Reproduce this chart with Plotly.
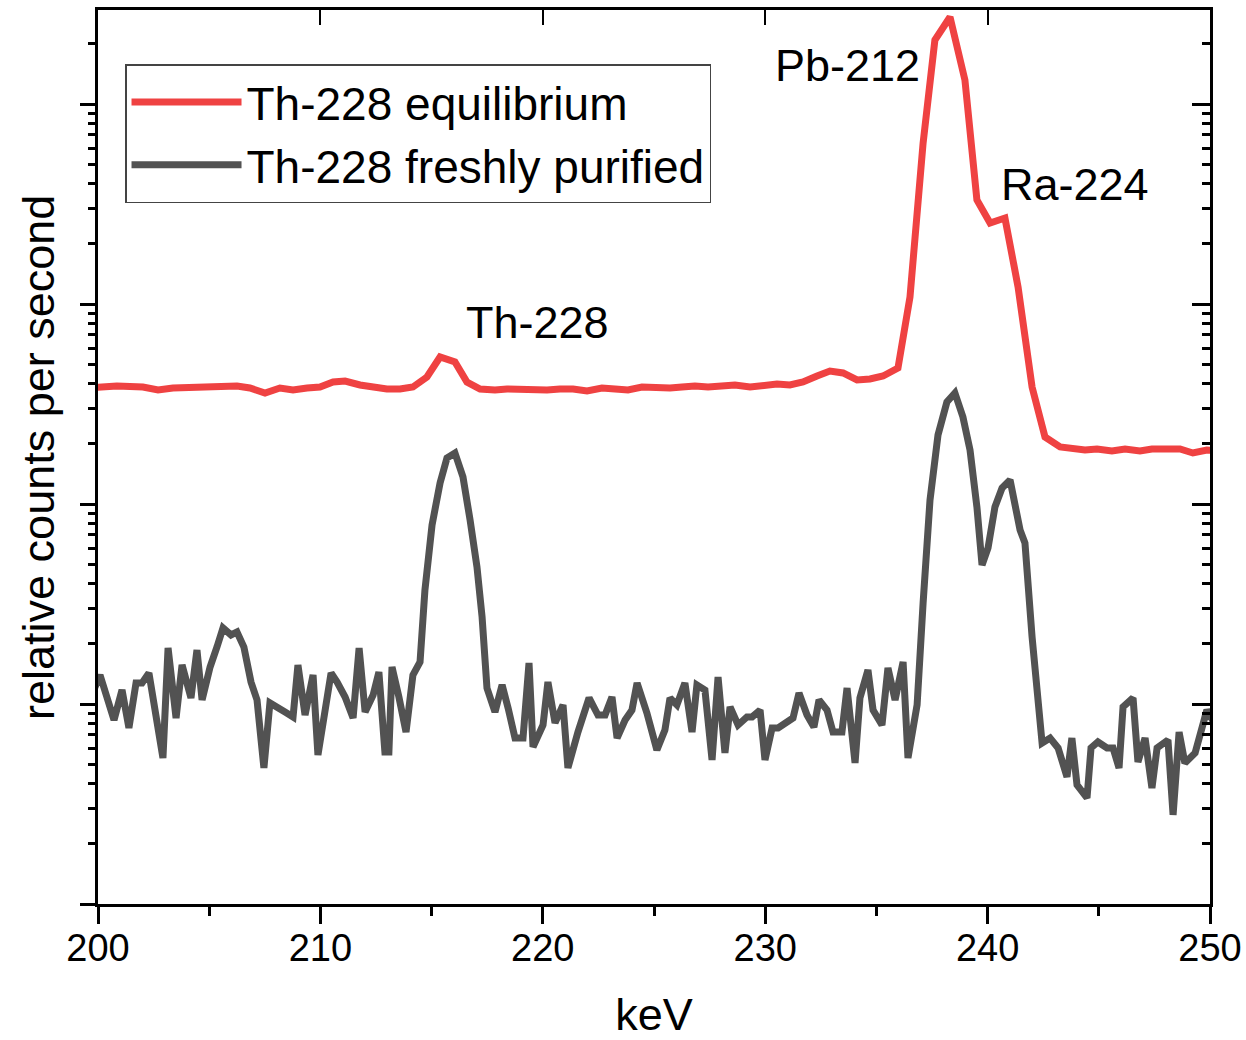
import math
import plotly.graph_objects as go

# --- data (keV, relative counts per second) ---
eq_kev = [199.55, 200.85, 202.02, 202.70, 203.37, 204.59, 205.13, 205.71, 206.25, 206.83,
          207.51, 208.18, 208.77, 209.40, 209.98, 210.57, 211.11, 211.78, 212.54, 212.99,
          213.58, 214.16, 214.79, 215.38, 216.05, 216.59, 217.18, 217.85, 218.39, 219.11,
          219.65, 220.19, 220.77, 221.36, 221.99, 222.66, 223.25, 223.83, 224.46, 225.13,
          225.72, 226.26, 226.84, 227.43, 228.06, 228.64, 229.32, 229.90, 230.53, 231.11,
          231.70, 232.33, 232.91, 233.50, 234.13, 234.71, 235.30, 235.97, 236.51, 237.10,
          237.63, 238.31, 238.98, 239.52, 240.11, 240.78, 241.37, 242.00, 242.58, 243.26,
          243.79, 244.38, 244.92, 245.59, 246.18, 246.85, 247.39, 247.98, 248.65, 249.23,
          249.86, 250.54]
eq_cps = [380.2, 389.0, 384.6, 371.5, 380.2, 384.6, 380.2, 389.0, 389.0, 380.2,
          358.9, 380.2, 371.5, 380.2, 384.6, 407.4, 412.1, 393.6, 380.2, 375.8,
          375.8, 384.6, 431.5, 543.3, 512.9, 407.4, 375.8, 371.5, 375.8, 371.5,
          371.5, 371.5, 375.8, 375.8, 367.3, 380.2, 375.8, 371.5, 384.6, 380.2,
          380.2, 384.6, 389.0, 384.6, 389.0, 393.6, 384.6, 393.6, 398.1, 393.6,
          407.4, 436.5, 462.4, 451.9, 416.9, 421.7, 436.5, 478.6, 1084, 6383,
          20890, 27230, 13180, 3311, 2541, 2692, 1216, 384.6, 216.3, 192.8,
          188.4, 186.2, 188.4, 184.1, 188.4, 184.1, 188.4, 188.4, 188.4, 179.9,
          186.2, 184.1]

fresh_kev = [199.64, 200.09, 200.72, 201.08, 201.39, 201.71, 201.98, 202.29, 202.92, 203.15,
             203.51, 203.78, 204.18, 204.45, 204.68, 205.04, 205.35, 205.62, 205.98, 206.25,
             206.56, 206.88, 207.15, 207.46, 207.73, 208.09, 208.41, 208.77, 208.99, 209.31,
             209.67, 209.89, 210.21, 210.48, 210.75, 211.11, 211.47, 211.74, 212.01, 212.37,
             212.63, 212.90, 213.08, 213.22, 213.53, 213.85, 214.16, 214.48, 214.70, 215.02,
             215.38, 215.69, 216.05, 216.41, 216.73, 217.04, 217.27, 217.49, 217.85, 218.17,
             218.44, 218.75, 219.11, 219.38, 219.56, 220.01, 220.23, 220.55, 220.91, 221.13,
             221.58, 222.08, 222.48, 222.80, 223.11, 223.34, 223.70, 224.01, 224.24, 224.68,
             225.13, 225.49, 225.72, 226.03, 226.39, 226.71, 226.93, 227.29, 227.61, 227.88,
             228.19, 228.42, 228.78, 229.18, 229.41, 229.77, 229.99, 230.31, 230.58, 230.89,
             231.25, 231.52, 231.88, 232.19, 232.42, 232.78, 233.05, 233.45, 233.68, 234.04,
             234.26, 234.62, 234.85, 235.25, 235.52, 235.84, 236.20, 236.42, 236.83, 237.10,
             237.41, 237.77, 238.17, 238.53, 238.89, 239.21, 239.52, 239.75, 240.02, 240.33,
             240.65, 241.01, 241.46, 241.68, 242.00, 242.45, 242.81, 243.17, 243.57, 243.79,
             244.02, 244.47, 244.65, 244.96, 245.37, 245.64, 245.91, 246.09, 246.54, 246.76,
             247.08, 247.39, 247.62, 248.11, 248.34, 248.61, 248.87, 249.33, 249.68, 249.86,
             250.31]
fresh_cps = [10.59, 13.96, 8.32, 11.75, 7.59, 12.74, 12.74, 14.29, 5.37, 19.05,
             8.51, 15.67, 10.72, 18.62, 10.47, 15.31, 19.28, 23.99, 22.13, 22.91,
             19.28, 12.88, 10.47, 4.79, 10.12, 9.66, 9.12, 8.61, 15.67, 8.81,
             13.96, 5.56, 9.33, 14.29, 12.88, 10.84, 8.51, 19.05, 9.12, 11.09,
             14.45, 5.75, 5.75, 15.31, 10.84, 7.24, 13.96, 16.22, 37.15, 78.52,
             127.4, 169.8, 179.9, 136.5, 83.18, 48.42, 27.23, 12.02, 9.12, 12.45,
             9.55, 6.76, 6.76, 16.03, 6.10, 7.85, 12.88, 8.04, 9.89, 4.79,
             7.24, 10.72, 8.81, 8.81, 10.84, 6.76, 8.32, 9.33, 12.74, 9.02,
             5.89, 7.41, 10.72, 9.89, 12.74, 7.24, 12.45, 11.75, 5.25, 13.65,
             5.69, 9.66, 7.85, 8.61, 8.61, 9.33, 5.25, 7.59, 7.59, 8.04,
             8.51, 11.35, 8.81, 7.67, 10.47, 9.33, 7.24, 7.24, 12.02, 5.07,
             10.72, 14.79, 9.33, 7.85, 15.14, 10.47, 16.22, 5.37, 9.89, 31.99,
             104.7, 221.3, 323.6, 358.9, 272.3, 186.2, 96.6, 49.55, 60.26, 96.6,
             120.2, 131.8, 74.13, 63.83, 21.63, 6.38, 6.76, 6.03, 4.32, 6.76,
             3.94, 3.39, 6.03, 6.46, 6.03, 6.03, 4.79, 9.66, 10.72, 5.13,
             6.76, 3.80, 6.03, 6.61, 2.79, 7.24, 5.07, 5.69, 8.04, 9.33,
             7.59]

series_names = ["Th-228 equilibrium", "Th-228 freshly purified"]
peak_labels = ["Th-228", "Pb-212", "Ra-224"]
peak_label_kev = [219.74, 233.72, 243.93]
peak_label_cps = [812, 15500, 3980]

x_ticks = [200, 210, 220, 230, 240, 250]
x_minor = [205, 215, 225, 235, 245]
y_major = [1, 10, 100, 1000, 10000]
y_minor = [m * 10 ** k for k in range(5) for m in range(2, 10)]
y_range_log = [0, 4.47]

RED = "#EF4242"
GRAY = "#525252"
FONT = "Liberation Sans, Arial, sans-serif"

fig = go.Figure()
fig.add_trace(go.Scatter(x=eq_kev, y=eq_cps, mode="lines", name=series_names[0],
                         line=dict(color=RED, width=7)))
fig.add_trace(go.Scatter(x=fresh_kev, y=fresh_cps, mode="lines", name=series_names[1],
                         line=dict(color=GRAY, width=7)))

# empty helper traces so the tick-only overlay axes get drawn
for xa, ya in [("x2", "y"), ("x", "y2"), ("x", "y3"), ("x", "y4"), ("x", "y5")]:
    fig.add_trace(go.Scatter(x=[], y=[], xaxis=xa, yaxis=ya, mode="lines",
                             showlegend=False, hoverinfo="skip"))

for lab, xv, yv in zip(peak_labels, peak_label_kev, peak_label_cps):
    fig.add_annotation(x=xv, y=math.log10(yv), xref="x", yref="y", text=lab,
                       showarrow=False, font=dict(family=FONT, size=45, color="black"))

fig.add_annotation(x=-0.054, y=0.5, xref="paper", yref="paper", xanchor="center",
                   yanchor="middle", text="relative counts per second", textangle=-90,
                   showarrow=False, font=dict(family=FONT, size=45, color="black"))


def tick_axis(vals, side, ticks, length):
    """Overlay axis (in log10 units) used only to draw tick marks."""
    return dict(type="linear", range=y_range_log, overlaying="y", side=side, anchor="x",
                tickmode="array", tickvals=[math.log10(v) for v in vals], ticks=ticks,
                ticklen=length, tickwidth=3, tickcolor="black", showticklabels=False,
                showline=False, showgrid=False, zeroline=False, fixedrange=True)


fig.update_layout(
    width=1246, height=1040,
    margin=dict(l=98, r=36, t=10, b=136),
    paper_bgcolor="white", plot_bgcolor="white",
    font=dict(family=FONT, color="black"),
    showlegend=True,
    legend=dict(x=0.0243, y=0.9395, xanchor="left", yanchor="top",
                bgcolor="white", bordercolor="#444", borderwidth=1.5,
                font=dict(family=FONT, size=46), itemwidth=110,
                tracegroupgap=0),
    xaxis=dict(range=[200, 250], tickvals=x_ticks, ticks="outside", ticklen=17,
               tickwidth=3, tickcolor="black", showline=True, linewidth=3,
               linecolor="black", mirror=True, showgrid=False, zeroline=False,
               tickfont=dict(family=FONT, size=38), ticklabelstandoff=-9,
               minor=dict(tickvals=x_minor, ticks="outside", ticklen=9, tickwidth=3,
                          tickcolor="black", showgrid=False),
               title=dict(text="keV", font=dict(family=FONT, size=45), standoff=35),
               automargin=False),
    xaxis2=dict(range=[200, 250], overlaying="x", side="top", anchor="y",
                tickvals=x_ticks, ticks="inside", ticklen=15, tickwidth=2,
                tickcolor="black", showticklabels=False, showline=False,
                showgrid=False, zeroline=False, fixedrange=True),
    yaxis=dict(type="log", range=y_range_log, ticks="", showticklabels=False,
               showline=True, linewidth=3, linecolor="black", mirror=True,
               showgrid=False, zeroline=False, automargin=False),
    yaxis2=tick_axis(y_major, "left", "outside", 17),
    yaxis3=tick_axis(y_minor, "left", "outside", 9),
    yaxis4=tick_axis(y_major, "right", "inside", 18),
    yaxis5=tick_axis(y_minor, "right", "inside", 8),
)

fig.write_html("out.html")
